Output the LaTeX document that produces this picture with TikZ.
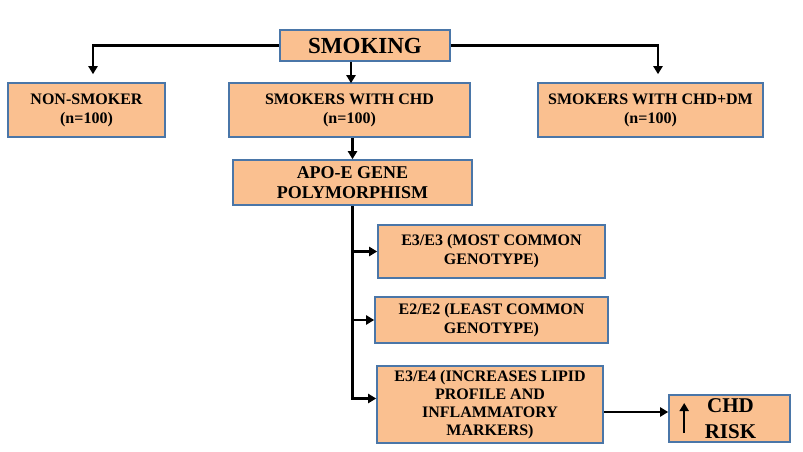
\documentclass[tikz,border=0pt]{standalone}
\usepackage{fontspec}
\setmainfont{Liberation Serif}
\usetikzlibrary{arrows.meta}
\definecolor{boxfill}{HTML}{FAC090}
\definecolor{boxedge}{HTML}{4A76A8}

\begin{document}
\begin{tikzpicture}[x=1pt,y=-1pt,
  flowbox/.style={draw=boxedge, line width=1.6pt, fill=boxfill, align=center, inner sep=2pt, font=\fontsize{16}{19}\selectfont\bfseries},
  link/.style={line width=2.4pt},
  arr/.style={link, -{Triangle[width=9pt,length=8pt]}}]
\useasboundingbox (0,0) rectangle (803,452);
% groups
\node[flowbox, minimum width=170pt, minimum height=31pt, font=\fontsize{23}{26}\selectfont\bfseries] (smoking) at (365,45.5) {SMOKING};
\node[flowbox, minimum width=157pt, minimum height=54pt] (nonsmoker) at (86.5,110) {NON-SMOKER\\(n=100)};
\node[flowbox, minimum width=241pt, minimum height=54pt] (chd) at (349.5,110) {SMOKERS WITH CHD\\(n=100)};
\node[flowbox, minimum width=225pt, minimum height=54pt] (chddm) at (650.5,110) {SMOKERS WITH CHD+DM\\(n=100)};
% genotypes
\node[flowbox, minimum width=239pt, minimum height=45pt, font=\fontsize{18}{20}\selectfont\bfseries] (apoe) at (352.5,182.5) {APO-E GENE\\POLYMORPHISM};
\node[flowbox, minimum width=227pt, minimum height=53pt] (ethree) at (491.5,251.5) {E3/E3 (MOST COMMON\\GENOTYPE)};
\node[flowbox, minimum width=233pt, minimum height=46pt] (etwo) at (491.5,320) {E2/E2 (LEAST COMMON\\GENOTYPE)};
\node[flowbox, minimum width=226pt, minimum height=77pt, font=\fontsize{16}{18}\selectfont\bfseries] (efour) at (490,404.5) {E3/E4 (INCREASES LIPID\\PROFILE AND\\INFLAMMATORY\\MARKERS)};
\node[flowbox, minimum width=121pt, minimum height=47pt, font=\fontsize{21}{26}\selectfont\bfseries] (risk) at (729.5,418.5) {\hspace{2pt}CHD\\\hspace{2pt}RISK};
% connectors
\draw[arr] (smoking.west) -| ([xshift=6.5pt,yshift=8pt]nonsmoker.north);
\draw[arr] (smoking.east) -| ([xshift=7.5pt,yshift=8pt]chddm.north);
\draw[arr] ([xshift=1.5pt]chd.north |- smoking.south) -- ([xshift=1.5pt,yshift=-1pt]chd.north);
\draw[arr] (apoe.north |- chd.south) -- (apoe.north);
\draw[arr] (apoe.south) |- ([yshift=6pt]efour.west);
\draw[arr] (apoe.south |- ethree.west) -- (ethree.west);
\draw[arr] (apoe.south |- etwo.west) -- (etwo.west);
\draw[arr] ([yshift=-7.5pt]efour.east) -- ([yshift=6.5pt]risk.west);
\draw[arr] ([xshift=16pt,yshift=-14.5pt]risk.west) -- ([xshift=16pt,yshift=15.5pt]risk.west);
\end{tikzpicture}
\end{document}
